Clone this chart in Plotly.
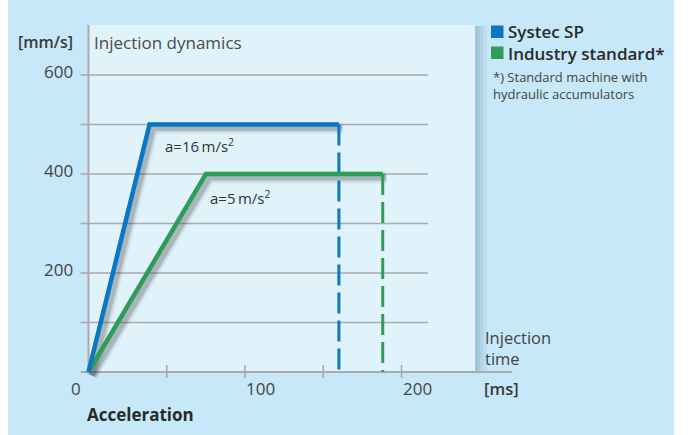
import plotly.graph_objects as go

# ---------------- data ----------------
speed_tick_vals = [200, 400, 600]
speed_tick_text = ["200", "400", "600"]
grid_vals = [100, 200, 300, 400, 500, 600]
time_tick_vals = [0, 100, 200]
time_tick_text = ["0", "100", "200"]
time_tick_marks = [50, 100, 150, 200]

series_names = ["Systec SP", "Industry standard*"]
systec_t = [0, 39, 160]
systec_v = [0, 500, 500]
industry_t = [0, 75, 188]
industry_v = [0, 400, 400]
accel_labels = ["a=16\u2009m/s<sup>2</sup>", "a=5\u2009m/s<sup>2</sup>"]

# ---------------- layout geometry ----------------
W, H = 688, 435
ML, MR, MT, MB = 60, 168, 20, 55
PW, PH = W - ML - MR, H - MT - MB
X_RANGE = [-18.2, 275.7]
Y_RANGE = [-16.2, 711.1]
kx = PW / (X_RANGE[1] - X_RANGE[0])
ky = PH / (Y_RANGE[1] - Y_RANGE[0])


def dx(px):
    return px / kx


def dy(px):
    return px / ky


def pxp(px):  # pixel -> paper x
    return (px - ML) / PW


def pyp(py):  # pixel -> paper y
    return (H - MB - py) / PH


BLUE = "#0A77C6"
GREEN = "#2E9D58"
GRID = "#A9AAAD"
OUTER = "#C6E8F8"
PANEL = "#E0F3FB"
TXT = "#3A3A3A"
FONT = "Open Sans"

X_END = 247      # right edge of the panel (ms)
Y_TOP = 701      # top edge of the panel (mm/s)
GRID_END = 217   # end of horizontal grid lines (ms)
AXIS_END = 270.6

fig = go.Figure()

# shadows of solid lines
for t, v in [(industry_t, industry_v), (systec_t, systec_v)]:
    sx = [a + dx(3.5) for a in t]
    sy = [b - dy(3.5) for b in v]
    for w, a in [(12, 0.06), (8.5, 0.10), (5.5, 0.16)]:
        fig.add_trace(go.Scatter(x=sx, y=sy, mode="lines",
                                 line=dict(color=f"rgba(40,40,40,{a})", width=w),
                                 hoverinfo="skip", showlegend=False))

# dashed drop lines
for t, v, c in [(industry_t, industry_v, GREEN), (systec_t, systec_v, BLUE)]:
    fig.add_trace(go.Scatter(x=[t[-1], t[-1]], y=[v[-1], 0], mode="lines",
                             line=dict(color=c, width=3, dash="21px,7px"),
                             hoverinfo="skip", showlegend=False))

# main lines
fig.add_trace(go.Scatter(x=industry_t, y=industry_v, mode="lines", name=series_names[1],
                         line=dict(color=GREEN, width=4.5), showlegend=False))
fig.add_trace(go.Scatter(x=systec_t, y=systec_v, mode="lines", name=series_names[0],
                         line=dict(color=BLUE, width=4.5), showlegend=False))

shapes = []
# outer blue background
shapes.append(dict(type="rect", xref="paper", yref="paper",
                   x0=pxp(8), x1=pxp(674), y0=pyp(H), y1=pyp(0),
                   fillcolor=OUTER, line=dict(width=0), layer="below"))
# panel shadow on the right
for k in [12, 8, 5, 2.5]:
    shapes.append(dict(type="rect", xref="x", yref="y",
                       x0=0, x1=X_END + dx(k), y0=0, y1=Y_TOP - dy(1),
                       fillcolor="rgba(20,60,100,0.055)", line=dict(width=0), layer="below"))
# panel
shapes.append(dict(type="rect", xref="x", yref="y", x0=0, x1=X_END, y0=0, y1=Y_TOP,
                   fillcolor=PANEL, line=dict(width=0), layer="below"))
# grid lines + y ticks
for g in grid_vals:
    shapes.append(dict(type="line", xref="x", yref="y", x0=0, x1=GRID_END, y0=g, y1=g,
                       line=dict(color=GRID, width=1.6), layer="below"))
for g in [0] + grid_vals:
    shapes.append(dict(type="line", xref="x", yref="y", x0=-dx(8), x1=0, y0=g, y1=g,
                       line=dict(color=GRID, width=1.6), layer="below"))
# axes
shapes.append(dict(type="line", xref="x", yref="y", x0=0, x1=0, y0=0, y1=Y_TOP,
                   line=dict(color=GRID, width=2), layer="below"))
shapes.append(dict(type="line", xref="x", yref="y", x0=-dx(7), x1=AXIS_END, y0=0, y1=0,
                   line=dict(color=GRID, width=2), layer="below"))
for m in time_tick_marks:
    shapes.append(dict(type="line", xref="x", yref="y", x0=m, x1=m, y0=-dy(6), y1=dy(7),
                       line=dict(color=GRID, width=1.6), layer="below"))
# legend squares
for i, c in enumerate([BLUE, GREEN]):
    shapes.append(dict(type="rect", xref="paper", yref="paper",
                       x0=pxp(491), x1=pxp(503.5), y0=pyp(38 + 21 * i), y1=pyp(25.5 + 21 * i),
                       fillcolor=c, line=dict(width=0)))

ann = []


def text(s, px, py, size=16, anchor="left", weight=400, color=TXT):
    ann.append(dict(text=s, xref="paper", yref="paper", x=pxp(px), y=pyp(py),
                    xanchor=anchor, yanchor="middle", showarrow=False, align="left",
                    font=dict(family=FONT, size=size, color=color, weight=weight)))


text("[mm/s]", 75, 42, 16, "right", 600)
text("Injection dynamics", 92, 42, 17, "left", 400, "#4A4A4A")
for v, s in zip(speed_tick_vals, speed_tick_text):
    text(s, 75, 372 - v * ky - 4, 17, "right", 400, "#444444")
for v, s in zip(time_tick_vals, time_tick_text):
    p = 88.5 + v * kx
    if v == 0:
        text(s, p - 6, 388, 17, "right", 400, "#444444")
    else:
        text(s, p - 1, 388, 17, "left", 400, "#444444")
text("Injection<br>time", 483, 348, 16.5, "left", 400, "#444444")
text("[ms]", 482, 388, 16.5, "left", 600)
text("Acceleration", 85, 414, 17, "left", 700, "#2A2A2A")
text(series_names[0], 506, 32, 17, "left", 600, "#2A2A2A")
text(series_names[1], 506, 53, 17, "left", 600, "#2A2A2A")
text("*) Standard machine with<br>hydraulic accumulators", 491, 85, 13, "left", 400, "#444444")
text(accel_labels[0], 163, 145, 15, "left", 400, "#333333")
text(accel_labels[1], 208, 197, 15, "left", 400, "#333333")

fig.update_layout(
    width=W, height=H,
    margin=dict(l=ML, r=MR, t=MT, b=MB),
    paper_bgcolor="white", plot_bgcolor="rgba(0,0,0,0)",
    xaxis=dict(range=X_RANGE, visible=False, fixedrange=True),
    yaxis=dict(range=Y_RANGE, visible=False, fixedrange=True),
    shapes=shapes, annotations=ann, showlegend=False,
    font=dict(family=FONT),
)
fig.write_html("out.html", config={"displayModeBar": False},
               post_script="document.body.style.margin='0';")
